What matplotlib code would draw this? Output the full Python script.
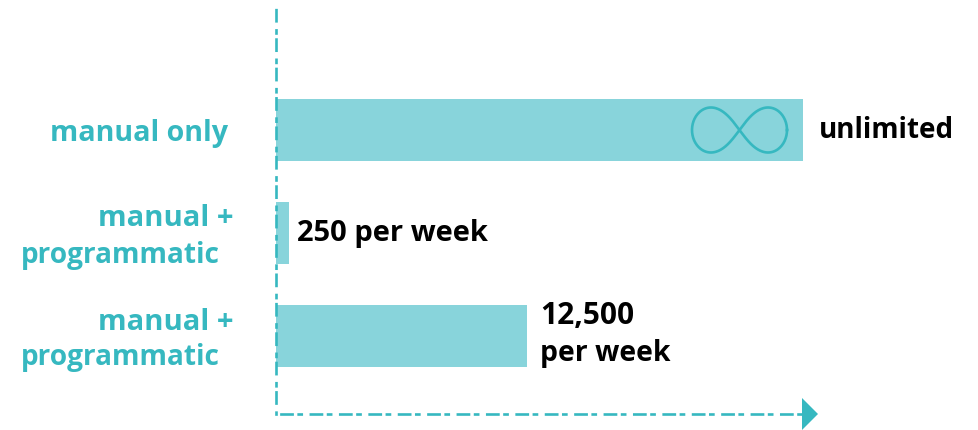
import numpy as np
import matplotlib
matplotlib.use("Agg")
import matplotlib.pyplot as plt
from matplotlib.patches import Polygon
from matplotlib.transforms import Affine2D

plt.rcParams['lines.scale_dashes'] = False
plt.rcParams['font.family'] = ['Open Sans', 'DejaVu Sans']

categories = ["manual only", "manual + programmatic", "manual + programmatic"]
values = [100, 2.4, 47.5]
value_labels = ["unlimited", "250 per week", "12,500\nper week"]

BAR = "#88D4DB"
TEAL = "#36B8C0"
W, H = 979, 430
fig = plt.figure(figsize=(W/100, H/100), dpi=100)
L, R, T, B = 276.4, 803, 8, 414
ax = fig.add_axes([L/W, (H-B)/H, (R-L)/W, (B-T)/H])
px = Affine2D().scale(1, -1).translate(0, H)

ypos = np.arange(len(values))
ax.barh(ypos, values, height=62/103, color=BAR, zorder=2)
ax.set_xlim(0, 100)
ax.set_ylim(2 + (B-336)/103, -(130-T)/103)
ax.set_xticks([]); ax.set_yticks([])
for s in ("top", "right"):
    ax.spines[s].set_visible(False)
pattern = (8, 4.4, 2.2, 6.57)
for s, off in (("left", 13.27), ("bottom", 17.6)):
    ax.spines[s].set_color(TEAL)
    ax.spines[s].set_linewidth(1.9)
    ax.spines[s].set_linestyle((off, pattern))
    ax.spines[s].set_zorder(3)

ax.add_patch(Polygon([[802, 398], [818, 414], [802, 430]], closed=True, color=TEAL,
                     transform=px, clip_on=False, lw=0))

# infinity symbol
t = np.linspace(0, 2*np.pi, 300)
c = np.cos(t)
ax.plot(739.5 + 47.5*(0.7*c + 0.3*c**3), 130 + 45*np.sin(t)*c, color=TEAL, lw=1.9,
        transform=px, clip_on=False, zorder=4)

def label(x, y, s, color, ha="left", fs=20.0):
    ax.text(x, y, s, color=color, fontsize=fs, fontweight="bold", ha=ha, va="center",
            transform=px, clip_on=False)

label(228, 133, "manual only", TEAL, "right", 20.6)
for y1, y2 in ((219, 255), (322, 358)):
    label(234, y1, "manual +", TEAL, "right", 21)
    label(219.5, y2, "programmatic", TEAL, "right", 20.2)

label(819, 131, value_labels[0], "black")
label(297, 233, value_labels[1], "black", fs=21)
a, b = value_labels[2].split("\n")
label(540, 316, a, "black", fs=21.5)
label(540, 353, b, "black", fs=20.4)

fig.savefig("out.png", dpi=100)
